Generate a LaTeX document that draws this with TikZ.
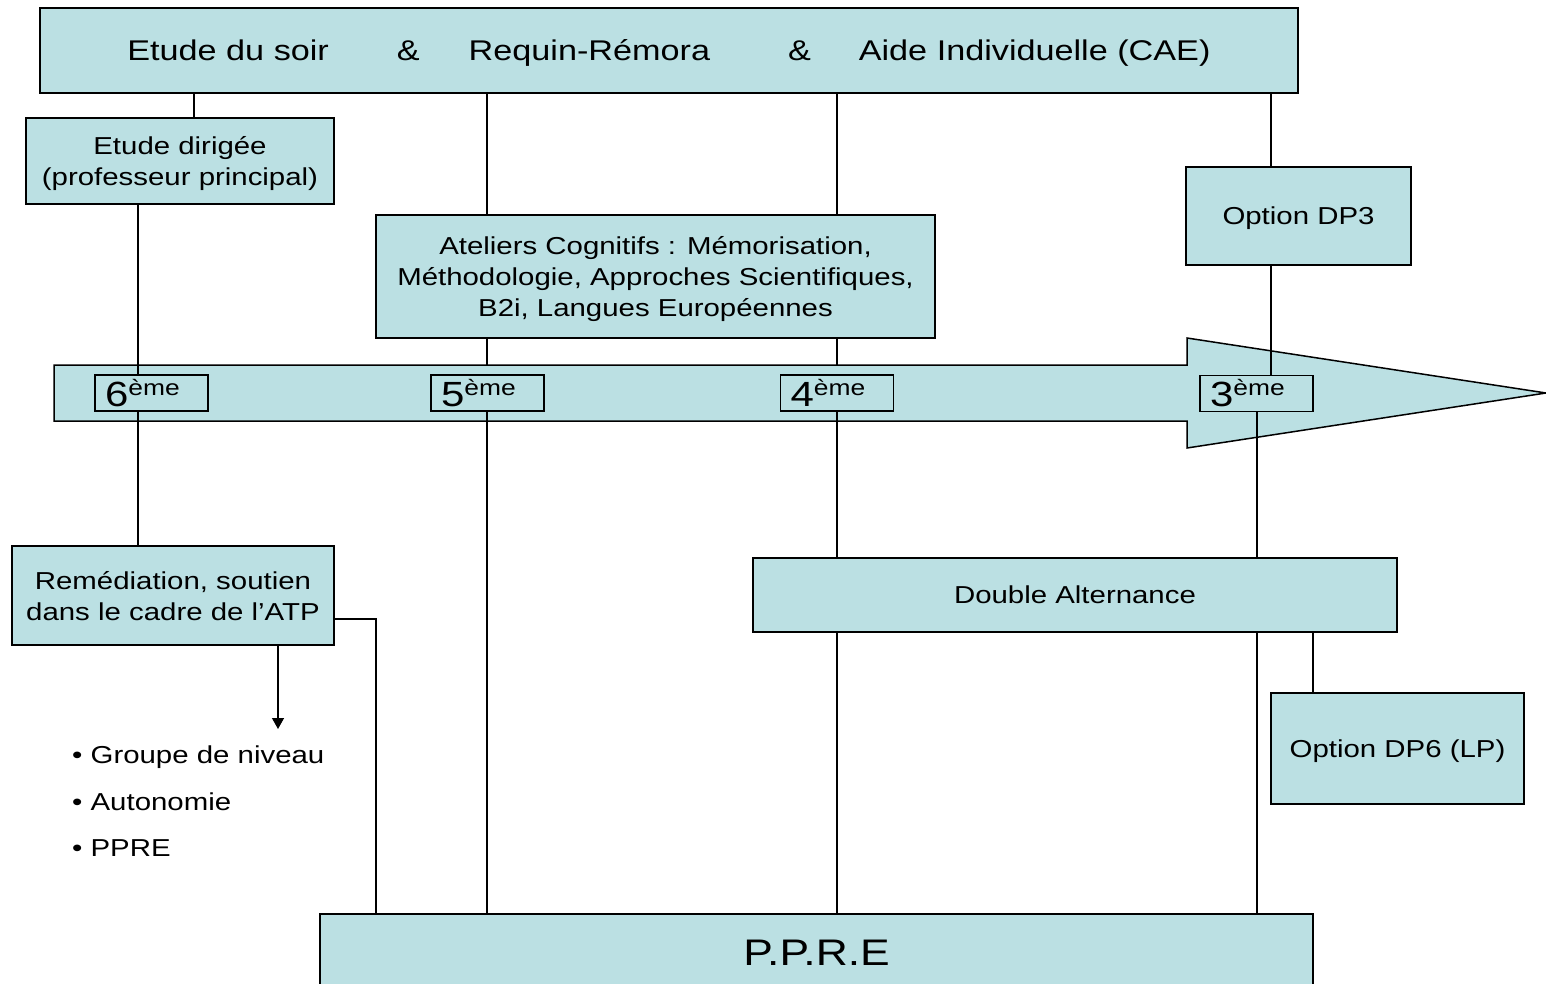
\documentclass[tikz,border=0pt]{standalone}
\usepackage{fontspec}
\setmainfont{Liberation Sans}[FakeStretch=1.2]
\usetikzlibrary{arrows.meta,calc,backgrounds}
\definecolor{boxfill}{RGB}{187,224,227}
\newcommand{\fsz}[2]{\fontsize{#1}{#2}\selectfont}
\begin{document}
\begin{tikzpicture}[x=1pt,y=-1pt,
  box/.style={draw=black, line width=1.6pt, fill=boxfill, inner sep=0pt, align=center, text depth=0pt, font=\fsz{24.5}{31}},
  yearbox/.style={draw=black, line width=1.4pt, fill=boxfill, inner ysep=0pt, inner xsep=10pt, text width=93pt, align=left, minimum height=36pt},
  link/.style={draw=black, line width=1.3pt},
]
\clip (0,0) rectangle (1546,984);
% column coordinates
\coordinate (c138) at (138,0);
\coordinate (c194) at (194,0);
\coordinate (c278) at (278,0);
\coordinate (c487) at (487,0);
\coordinate (c837) at (837,0);
\coordinate (c1257) at (1257,0);
\coordinate (c1271) at (1271,0);
\coordinate (c1313) at (1313,0);
\coordinate (shaft) at (0,365);
\coordinate (kink) at (376,619);
\coordinate (listtop) at (278,729);

% boxes
\node[box, font=\fsz{28.5}{34}, minimum width=1258pt, minimum height=85pt] (top) at (669,50.5)
  {Etude du soir\hspace{68pt}\&\hspace{49pt}Requin-Rémora\hspace{78pt}\&\hspace{48pt}Aide Individuelle (CAE)};
\node[box, minimum width=308pt, minimum height=86pt] (ed) at (180,161)
  {Etude dirigée\\(professeur principal)};
\node[box, minimum width=559pt, minimum height=123pt] (at) at (655.5,276.5)
  {Ateliers Cognitifs : Mémorisation,\\Méthodologie, Approches Scientifiques,\\B2i, Langues Européennes};
\node[box, minimum width=225pt, minimum height=98pt] (dp3) at (1298.5,216) {Option DP3};
\node[box, minimum width=322pt, minimum height=99pt] (rem) at (173,595.5)
  {Remédiation, soutien\\dans le cadre de l’ATP};
\node[box, minimum width=644pt, minimum height=74pt] (da) at (1075,595) {Double Alternance};
\node[box, minimum width=253pt, minimum height=111pt] (dp6) at (1397.5,748.5) {Option DP6 (LP)};
\node[box, font=\fsz{37}{40}, minimum width=993pt, minimum height=78pt] (ppre) at (816.5,953) {P.P.R.E};

\node[yearbox] (y6) at (151.5,393) {{\fsz{35}{35}6}\raisebox{11pt}{\fsz{22}{22}ème}};
\node[yearbox] (y5) at (487.5,393) {{\fsz{35}{35}5}\raisebox{11pt}{\fsz{22}{22}ème}};
\node[yearbox] (y4) at (837,393) {{\fsz{35}{35}4}\raisebox{11pt}{\fsz{22}{22}ème}};
\node[yearbox] (y3) at (1256.5,393.5) {{\fsz{35}{35}3}\raisebox{11pt}{\fsz{22}{22}ème}};

\node[anchor=north west, inner sep=0pt, align=left, font=\fsz{24.5}{46.5}] (list) at (72,746)
  {• Groupe de niveau\\• Autonomie\\• PPRE};

\begin{scope}[on background layer]
  \draw[line width=1.5pt, fill=boxfill] (54,365) -- (1187,365) -- (1187,338) -- (1546,393)
    -- (1187,448) -- (1187,421) -- (54,421) -- cycle;
  \draw[link] (top.south -| c194) -- (ed.north -| c194);
  \draw[link] (top.south -| c487) -- (at.north -| c487);
  \draw[link] (top.south -| c837) -- (at.north -| c837);
  \draw[link] (top.south -| c1271) -- (dp3.north -| c1271);
  \draw[link] (ed.south -| c138) -- (rem.north -| c138);
  \draw[link] (at.south -| c487) -- (shaft -| c487);
  \draw[link] (at.south -| c837) -- (shaft -| c837);
  \draw[link] (y5.south -| c487) -- (ppre.north -| c487);
  \draw[link] (y4.south -| c837) -- (da.north -| c837);
  \draw[link] (da.south -| c837) -- (ppre.north -| c837);
  \draw[link] (dp3.south -| c1271) -- (y3.north -| c1271);
  \draw[link] (y3.south -| c1257) -- (da.north -| c1257);
  \draw[link] (da.south -| c1257) -- (ppre.north -| c1257);
  \draw[link] (da.south -| c1313) -- (dp6.north -| c1313);
  \draw[link] (rem.east |- kink) -- (kink) -- (ppre.north -| kink);
  \draw[link, -{Triangle[width=12pt,length=11pt]}] (rem.south -| c278) -- (listtop);
\end{scope}
\end{tikzpicture}
\end{document}
